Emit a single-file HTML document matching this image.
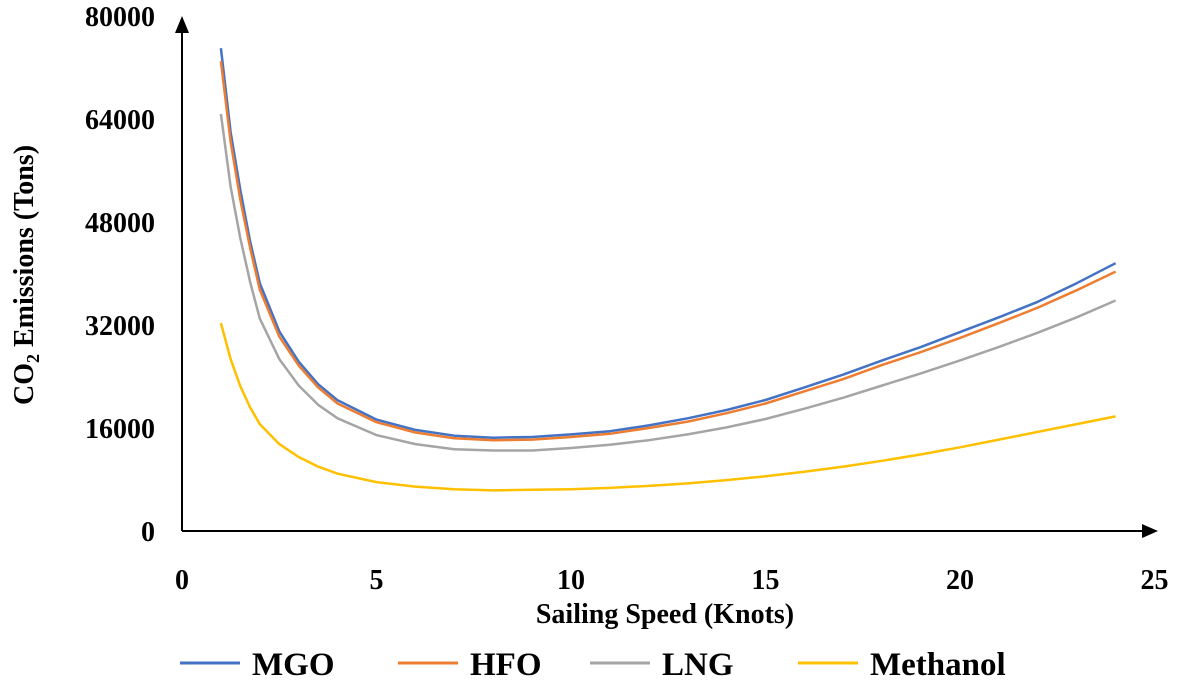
<!DOCTYPE html>
<html><head><meta charset="utf-8"><style>
html,body{margin:0;padding:0;background:#fff;}
svg{display:block;font-family:"Liberation Serif",serif;font-weight:bold;}
</style></head><body>
<svg id="chart" width="1181" height="690" viewBox="0 0 1181 690">
<g id="axes"></g>
<g id="series"></g>
<g id="legend"></g>
</svg>
<script>
const speeds = [1,1.25,1.5,1.75,2,2.5,3,3.5,4,5,6,7,8,9,10,11,12,13,14,15,16,17,18,19,20,21,22,23,24];
const mgo = [75000,62000,53000,45000,38500,31000,26300,22800,20300,17300,15700,14800,14500,14600,15000,15500,16400,17500,18800,20350,22300,24300,26500,28600,30900,33200,35600,38500,41600];
const hfo = [73000,60500,51500,44000,37500,30200,25700,22300,19800,16900,15300,14400,14100,14200,14600,15100,16000,17000,18300,19800,21700,23600,25800,27800,30000,32300,34700,37400,40300];
const lng = [64800,53500,45500,38700,33000,26700,22600,19600,17500,14900,13500,12700,12500,12500,12900,13400,14100,15000,16100,17400,19000,20700,22600,24500,26500,28600,30800,33200,35800];
const methanol = [32300,26700,22500,19200,16600,13500,11500,10000,8900,7600,6900,6500,6300,6400,6500,6700,7000,7400,7900,8500,9200,10000,10900,11900,13000,14200,15400,16600,17800];
const seriesNames = ["MGO","HFO","LNG","Methanol"];
const seriesColors = ["#4472C4","#ED7D31","#A5A5A5","#FFC000"];
const xTicks = [0,5,10,15,20,25];
const yTicks = [0,16000,32000,48000,64000,80000];
const NS="http://www.w3.org/2000/svg";
function xs(v){return 182+v*38.9;}
function ys(v){return 531-v/16000*103;}
function mk(tag,attrs,parent,text){const e=document.createElementNS(NS,tag);for(const k in attrs)e.setAttribute(k,attrs[k]);if(text!==undefined)e.textContent=text;parent.appendChild(e);return e;}
const ax=document.getElementById('axes');
let e=mk('line',{x1:182,y1:531,x2:1148,y2:531,stroke:'#000','stroke-width':2},ax);


e=mk('polygon',{points:'1158,531 1142,524 1142,538',fill:'#000'},ax);


e=mk('line',{x1:182,y1:531,x2:182,y2:28,stroke:'#000','stroke-width':2},ax);


e=mk('polygon',{points:'182,16 175,33 189,33',fill:'#000'},ax);


xTicks.forEach(t=>{const el=mk('text',{x:xs(t),y:589,'text-anchor':'middle','font-size':28},ax,String(t));

});
yTicks.forEach(t=>{const el=mk('text',{x:155,y:ys(t)+10,'text-anchor':'end','font-size':28},ax,String(t));

});
e=mk('text',{x:665,y:623,'text-anchor':'middle','font-size':28},ax,'Sailing Speed (Knots)');


e=mk('text',{transform:'translate(33,275) rotate(-90)','text-anchor':'middle','font-size':28},ax);


e.innerHTML='CO<tspan font-size="18" dy="6">2</tspan><tspan dy="-6"> Emissions (Tons)</tspan>';
const sg=document.getElementById('series');
[mgo,hfo,lng,methanol].forEach((arr,i)=>{
 const d=arr.map((v,j)=>(j?'L':'M')+xs(speeds[j]).toFixed(1)+','+ys(v).toFixed(1)).join(' ');
 const p=mk('path',{d:d,fill:'none',stroke:seriesColors[i],'stroke-width':2.5,'stroke-linejoin':'round'},sg);
 
 
});
const lg=document.getElementById('legend');
const lx=[180,398,590,798];
seriesNames.forEach((n,i)=>{
 const g=mk('g',{},lg);
 
 
 mk('line',{x1:lx[i],y1:663,x2:lx[i]+60,y2:663,stroke:seriesColors[i],'stroke-width':3},g);
 mk('text',{x:lx[i]+72,y:675,'font-size':33},g,n);
});
</script>
</body></html>
